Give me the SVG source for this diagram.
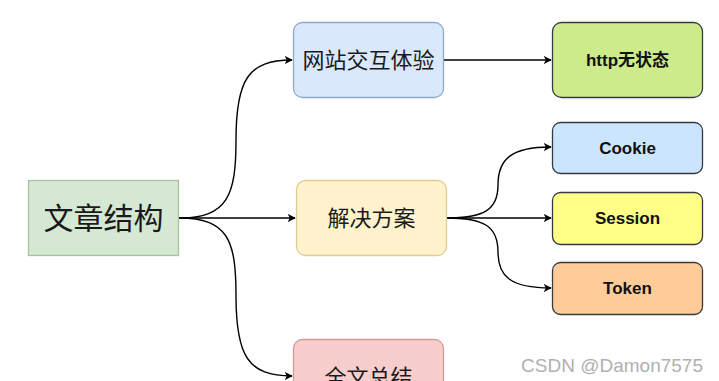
<svg xmlns="http://www.w3.org/2000/svg" width="719" height="381" viewBox="0 0 719 381">
<style>
.cn{font-family:"Liberation Sans","Noto Sans CJK SC",sans-serif;fill:#1a1a1a;text-anchor:middle;dominant-baseline:central}
.b{font-family:"Liberation Sans","Noto Sans CJK SC",sans-serif;font-weight:bold;font-size:17px;fill:#111;text-anchor:middle;dominant-baseline:central}
.e{fill:none;stroke:#000;stroke-width:1.4;marker-end:url(#ah)}
.d{stroke:#36393d;stroke-width:1.3}
</style>
<defs>
<marker id="ah" viewBox="0 0 10 10" refX="9" refY="5" markerWidth="8" markerHeight="8" markerUnits="userSpaceOnUse" orient="auto">
<path d="M0,0 L10,5 L0,10 L2.5,5 Z" fill="#000"/>
</marker>
</defs>
<rect width="719" height="381" fill="#fff"/>
<g id="connectors">
<path class="e" d="M179,218 C228,218 236,195 236,140 C236,80 248,60 292,60"/>
<path class="e" d="M179,218 L295,218"/>
<path class="e" d="M179,218 C228,218 236,240 236,296 C236,356 248,376 292,376"/>
<path class="e" d="M443,60 L551,60"/>
<path class="e" d="M446,218 C484,218 498,210 498,185 C498,160 510,147 551,147"/>
<path class="e" d="M446,218 L551,218"/>
<path class="e" d="M446,218 C484,218 498,226 498,252 C498,276 510,288 551,288"/>
</g>
<g id="root">
<rect x="28.5" y="180.5" width="150" height="75" fill="#d5e8d4" stroke="#a8c49a" stroke-width="1.3"/>
<text class="cn" x="103.5" y="218" font-size="30">文章结构</text>
</g>
<g id="n-web">
<rect x="293.5" y="22.5" width="150" height="75" rx="9" fill="#dae8fc" stroke="#8fa8c8" stroke-width="1.3"/>
<text class="cn" x="368.5" y="60" font-size="22">网站交互体验</text>
</g>
<g id="n-solve">
<rect x="296.5" y="180.5" width="150" height="75" rx="9" fill="#fff2cc" stroke="#e0cd96" stroke-width="1.3"/>
<text class="cn" x="371.5" y="218" font-size="22">解决方案</text>
</g>
<g id="n-sum">
<rect x="293.5" y="339.5" width="150" height="75" rx="9" fill="#f8cecc" stroke="#d49a98" stroke-width="1.3"/>
<text class="cn" x="368.5" y="377" font-size="22">全文总结</text>
</g>
<g id="n-http">
<rect class="d" x="552.5" y="22.5" width="150" height="75" rx="9" fill="#cdeb8b"/>
<text class="b" x="627.5" y="60">http无状态</text>
</g>
<g id="n-cookie">
<rect class="d" x="552.5" y="122.5" width="150" height="51" rx="8" fill="#cce5ff"/>
<text class="b" x="627.5" y="148">Cookie</text>
</g>
<g id="n-session">
<rect class="d" x="552.5" y="192.5" width="150" height="52" rx="8" fill="#ffff88"/>
<text class="b" x="627.5" y="218">Session</text>
</g>
<g id="n-token">
<rect class="d" x="552.5" y="262.5" width="150" height="52" rx="8" fill="#ffcc99"/>
<text class="b" x="627.5" y="288">Token</text>
</g>
<text x="703" y="372" font-family="Liberation Sans, sans-serif" font-size="19" fill="#b0b0b0" text-anchor="end">CSDN @Damon7575</text>
</svg>
